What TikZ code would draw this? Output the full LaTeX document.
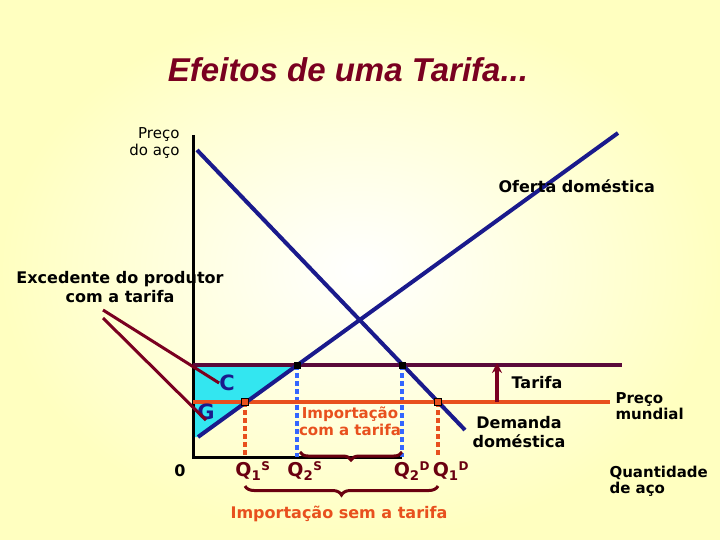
\documentclass[tikz,border=0pt]{standalone}
\usepackage{fontspec}
\setmainfont{DejaVu Sans}
\newfontfamily\arial{Liberation Sans}
\usetikzlibrary{decorations.pathreplacing,arrows.meta}
\definecolor{maroon}{HTML}{7A0020}
\definecolor{navy}{HTML}{1A1A8C}
\definecolor{orng}{HTML}{E8501E}
\definecolor{qcol}{HTML}{6A0010}
\definecolor{plum}{HTML}{5A0A3A}
\definecolor{cyanfill}{HTML}{33E6F0}
\definecolor{dblue}{HTML}{3366FF}
\definecolor{bgy}{HTML}{FFFFC0}
\begin{document}
\begin{tikzpicture}[x=1pt,y=-1pt,
  lbl/.style={font=\fontsize{16}{19}\selectfont\bfseries, align=center, inner sep=0},
  qlbl/.style={inner sep=0, text=qcol, font=\fontsize{19}{22}\selectfont\bfseries},
  dot/.style={fill=black, minimum size=7pt, inner sep=0},
  odot/.style={draw=black, fill=orng, minimum size=7pt, inner sep=0, line width=1.2pt}]
\shade[inner color=white, outer color=bgy] (0,0) rectangle (720,540);
\useasboundingbox (0,0) rectangle (720,540);
% cyan region
\fill[cyanfill] (193,365) -- (297,365) -- (198,437) -- (193,437) -- cycle;
% axes
\coordinate (ytop) at (193,135); \coordinate (org) at (193,457); \coordinate (xend) at (402,457);
\draw[line width=3pt] (ytop) -- (org) -- (xend);
% dashed
\draw[orng, line width=4pt, dash pattern=on 5pt off 3pt] (245,402) -- (245,457);
\draw[orng, line width=4pt, dash pattern=on 5pt off 3pt] (438,402) -- (438,457);
\draw[dblue, line width=4pt, dash pattern=on 5pt off 3pt] (297,365) -- (297,457);
\draw[dblue, line width=4pt, dash pattern=on 5pt off 3pt] (402,365) -- (402,457);
% price lines
\draw[plum, line width=3.5pt] (193,365) -- (622,365);
\draw[orng, line width=3.5pt] (193,402) -- (610,402);
% supply & demand
\coordinate (s1) at (198,437); \coordinate (s2) at (618,133);
\coordinate (d1) at (197,150); \coordinate (d2) at (465,430);
\draw[navy, line width=4pt] (s1) -- (s2);
\draw[navy, line width=4pt] (d1) -- (d2);
% points
\node[dot] (p1) at (297,365) {};
\node[dot] (p2) at (402,365) {};
\node[odot] (p3) at (245,402) {};
\node[odot] (p4) at (438,402) {};
% arrow
\coordinate (a1) at (497,402); \coordinate (a2) at (497,363);
\draw[-{Stealth[length=10pt,width=10pt]}, maroon, line width=3.5pt] (a1) -- (a2);
% texts
\node[font=\arial\bfseries\itshape\fontsize{33}{36}\selectfont, text=maroon] (title) at (348,70) {Efeitos de uma Tarifa...};
\node[font=\fontsize{15}{17}\selectfont, align=right, anchor=east] (py) at (183,143) {Preço\\do aço};
\node[lbl, anchor=east] (of) at (655,186) {Oferta doméstica};
\node[lbl] (exc) at (120,287) {Excedente do produtor\\com a tarifa};
\node[lbl, text=navy, font=\fontsize{21}{22}\selectfont\bfseries] (C) at (227,383) {C};
\node[lbl, text=navy, font=\fontsize{21}{22}\selectfont\bfseries] (G) at (206,412) {G};
\coordinate (e1) at (103,310); \coordinate (e2) at (103,318);
\draw[maroon, line width=3pt] (e1) -- (C.west);
\draw[maroon, line width=3pt] (e2) -- (G.south);
\node[lbl] (tar) at (537,383) {Tarifa};
\node[lbl] (dem) at (519,432) {Demanda\\doméstica};
\node[font=\fontsize{15}{16}\selectfont\bfseries, align=left, anchor=west] (pm) at (612,406) {Preço\\mundial};
\node[font=\fontsize{15}{16}\selectfont\bfseries, align=left, anchor=west] (qa) at (606,481) {Quantidade\\de aço};
\node[lbl, text=orng, font=\fontsize{15}{17}\selectfont\bfseries] (imp) at (350,421) {Importação\\com a tarifa};
\node[lbl] (zero) at (180,471) {0};
\node[qlbl] (q1s) at (253,471) {Q\textsubscript{1}\textsuperscript{\fontsize{12}{12}\selectfont S}};
\node[qlbl] (q2s) at (305,471) {Q\textsubscript{2}\textsuperscript{\fontsize{12}{12}\selectfont S}};
\node[qlbl] (q2d) at (412,471) {Q\textsubscript{2}\textsuperscript{\fontsize{12}{12}\selectfont D}};
\node[qlbl] (q1d) at (451,471) {Q\textsubscript{1}\textsuperscript{\fontsize{12}{12}\selectfont D}};
\node[lbl, text=orng, font=\fontsize{16}{17}\selectfont\bfseries] (imps) at (339,514) {Importação sem a tarifa};
% braces
\coordinate (b1) at (300,452); \coordinate (b2) at (402,452);
\coordinate (b3) at (245,486); \coordinate (b4) at (438,486);
\draw[qcol, line width=3pt, decorate, decoration={brace, mirror, amplitude=8pt}] (b1) -- (b2);
\draw[qcol, line width=3pt, decorate, decoration={brace, mirror, amplitude=9pt}] (b3) -- (b4);
\end{tikzpicture}
\end{document}
